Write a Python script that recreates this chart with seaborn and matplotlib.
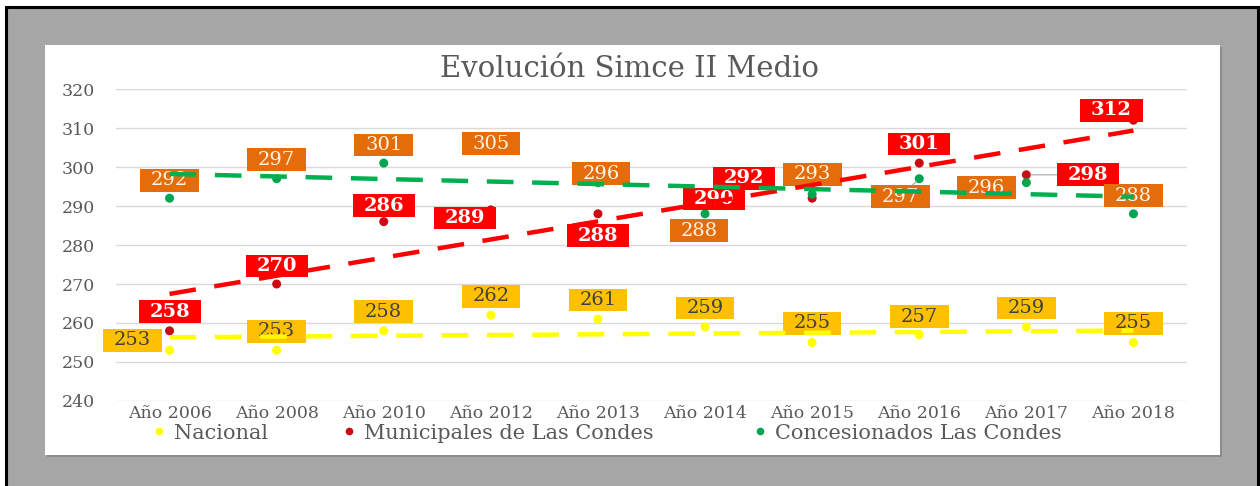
import numpy as np
import pandas as pd
import matplotlib
matplotlib.use('Agg')
import matplotlib.pyplot as plt
import seaborn as sns
from matplotlib.path import Path
from matplotlib.patches import Rectangle
from matplotlib.lines import Line2D

# ── Datos ──────────────────────────────────────────────────────────────────
anios = ["Año 2006", "Año 2008", "Año 2010", "Año 2012", "Año 2013",
         "Año 2014", "Año 2015", "Año 2016", "Año 2017", "Año 2018"]
nacional      = [253, 253, 258, 262, 261, 259, 255, 257, 259, 255]
municipales   = [258, 270, 286, 289, 288, 290, 292, 301, 298, 312]
concesionados = [292, 297, 301, 305, 296, 288, 293, 297, 296, 288]
series = ["Nacional", "Municipales de Las Condes", "Concesionados Las Condes"]
yticks = [240, 250, 260, 270, 280, 290, 300, 310, 320]

# ── Estilos ────────────────────────────────────────────────────────────────
col_punto = {"Nacional": "#FFFF00",
             "Municipales de Las Condes": "#CC0A14",
             "Concesionados Las Condes": "#00A550"}
col_trend = {"Nacional": "#FFFF00",
             "Municipales de Las Condes": "#FF0000",
             "Concesionados Las Condes": "#00B050"}
# (fondo, texto, peso) de las etiquetas
estilo_etq = {"Nacional": ("#FFC000", "#404040", "normal"),
              "Municipales de Las Condes": ("#FF0000", "white", "bold"),
              "Concesionados Las Condes": ("#E46C0A", "#FFF5E6", "normal")}
# desplazamiento de cada etiqueta respecto al punto (pixeles)
offs = {
    "Nacional": [(-37, 10), (0, 19), (0, 19), (0, 19), (0, 19),
                 (0, 19), (0, 19), (0, 18), (0, 19), (0, 19)],
    "Municipales de Las Condes": [(0, 19), (0, 18), (0, 16), (-26, -8), (0, -22),
                                  (9, 7), (-68, 20), (0, 19), (62, 0), (-22, 10)],
    "Concesionados Las Condes": [(0, 18), (0, 19), (0, 18), (0, 4), (3, 9),
                                 (-6, -17), (0, 20), (-19, -18), (-40, -5), (0, 18)],
}
leaders = {("Municipales de Las Condes", 8), ("Concesionados Las Condes", 7)}
# posición x (pixeles) del punto de cada entrada de la leyenda
leg_x = [159, 349, 760]

SERIF = "DejaVu Serif"
GRIS = "#595959"

valores = {"Nacional": nacional,
           "Municipales de Las Condes": municipales,
           "Concesionados Las Condes": concesionados}
df = pd.DataFrame({
    "pos": np.tile(np.arange(len(anios)), len(series)),
    "serie": np.repeat(series, len(anios)),
    "valor": nacional + municipales + concesionados,
})


def label_box(x0, y0, width, height, mutation_size):
    # caja rectangular con más relleno horizontal que vertical (estilo Excel)
    padx = 0.55 * mutation_size
    pady = 0.12 * mutation_size
    x0, x1 = x0 - padx, x0 + width + padx
    y0, y1 = y0 - pady, y0 + height + pady
    return Path([(x0, y0), (x1, y0), (x1, y1), (x0, y1), (x0, y0)], closed=True)


sns.set_theme(style="white")
plt.rcParams['font.family'] = [SERIF, 'DejaVu Sans']

fig = plt.figure(figsize=(12.6, 4.86), dpi=100, facecolor="white")

# fondo gris con marco negro y panel blanco
fig.add_artist(Rectangle((6 / 1260, -0.1), 1252 / 1260, 1.1 - 7 / 486,
                         transform=fig.transFigure, fc="#A6A6A6",
                         ec="black", lw=2.2, zorder=0))
fig.add_artist(Rectangle((47 / 1260, 1 - 457 / 486), 1175 / 1260, 410 / 486,
                         transform=fig.transFigure, fc="#8C8C8C", ec="none", zorder=0))
fig.add_artist(Rectangle((45 / 1260, 1 - 455 / 486), 1175 / 1260, 410 / 486,
                         transform=fig.transFigure, fc="white", ec="none", zorder=0))

ax = fig.add_axes([116 / 1260, 1 - 401 / 486, 1071 / 1260, 312 / 486])
ax.set_facecolor("none")

# puntos
sns.scatterplot(data=df, x="pos", y="valor", hue="serie", palette=col_punto,
                s=42, edgecolor="none", legend=False, ax=ax, zorder=2)

# etiquetas
for serie in series:
    fc, tc, fw = estilo_etq[serie]
    for i, v in enumerate(valores[serie]):
        dx, dy = offs[serie][i]
        kw = {}
        if (serie, i) in leaders:
            kw["arrowprops"] = dict(arrowstyle="-", color="#A6A6A6", lw=0.8,
                                    shrinkA=0, shrinkB=3)
        ax.annotate(str(v), (i, v), xytext=(dx, dy), textcoords="offset pixels",
                    ha="center", va="center", fontsize=14, color=tc,
                    fontweight=fw, zorder=3,
                    bbox=dict(boxstyle=label_box, fc=fc, ec="none"), **kw)

# líneas de tendencia
for serie in series:
    sub = df[df["serie"] == serie]
    sns.regplot(data=sub, x="pos", y="valor", scatter=False, ci=None, ax=ax,
                line_kws=dict(color=col_trend[serie], lw=3.2,
                              dashes=(6, 4.2), zorder=4, solid_capstyle="butt"))

ax.set_xlim(-0.5, len(anios) - 0.5)
ax.set_ylim(240, 320)
ax.set_yticks(yticks)
ax.set_xticks(np.arange(len(anios)))
ax.set_xticklabels(anios)
ax.set_xlabel("")
ax.set_ylabel("")
ax.grid(axis="y", color="#D9D9D9", lw=1)
ax.grid(axis="x", visible=False)
ax.set_axisbelow(True)
for s in ax.spines.values():
    s.set_visible(False)
ax.tick_params(axis="y", length=0, pad=15, labelsize=12.5, labelcolor=GRIS)
ax.tick_params(axis="x", length=0, pad=3, labelsize=12.5, labelcolor=GRIS)

fig.text(0.4996, 1 - 69 / 486, "Evolución Simce II Medio", ha="center",
         va="center", fontsize=21, color=GRIS)

# leyenda: una entrada por serie, en la posición de la referencia
for s, xp in zip(series, leg_x):
    h = Line2D([], [], ls="none", marker="o", ms=5.5, mec="none", mfc=col_punto[s])
    fig.legend([h], [s], loc="center left",
               bbox_to_anchor=((xp - 6) / 1260, 1 - 433 / 486),
               frameon=False, fontsize=15, labelcolor=GRIS,
               handletextpad=0.4, handlelength=0.6,
               borderaxespad=0, borderpad=0)

plt.savefig("out.png", dpi=100, facecolor=fig.get_facecolor())
plt.close()
